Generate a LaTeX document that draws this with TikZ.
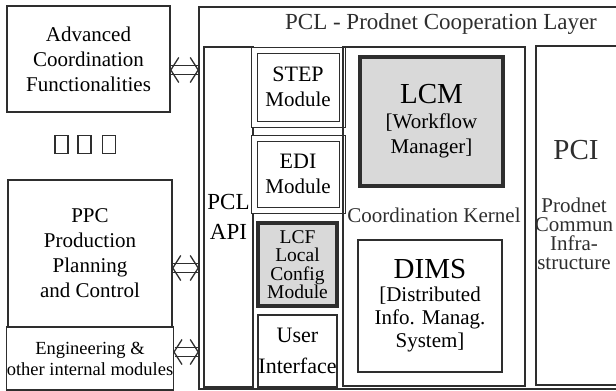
\documentclass[tikz,border=0pt]{standalone}
\usepackage{fontspec}
\setmainfont{Liberation Serif}
\usetikzlibrary{arrows.meta}
\definecolor{ink}{HTML}{2E2E2E}
\definecolor{shade}{HTML}{D9D9D9}

\begin{document}
\begin{tikzpicture}[x=1pt, y=-1pt,
    box/.style={draw=ink, line width=1.2pt, inner sep=0pt, outer sep=0pt,
                align=center, font=\fontsize{21}{25}\selectfont},
    hbox/.style={box, line width=3.5pt, fill=shade},
    dbox/.style={box, double, double distance=5pt, line width=1pt},
    txt/.style={inner sep=0pt, align=center, text=ink, font=\fontsize{21}{25}\selectfont},
    big/.style={txt, font=\fontsize{29}{32}\selectfont},
    sqmark/.style={draw=ink, line width=1.3pt, minimum width=13pt, minimum height=18pt, inner sep=0pt},
    iface/.style={draw=ink, double, double distance=8pt, line width=1.2pt,
                  {Straight Barb[length=8pt, width=25pt, line width=1.3pt]}-{Straight Barb[length=8pt, width=25pt, line width=1.3pt]}},
]
    \useasboundingbox (0,0) rectangle (616,391);
    \clip (0,0) rectangle (616,391);

    % outside the layer
    \node[box, minimum width=163pt, minimum height=106pt] (adv) at (88.5,59)
        {Advanced\\Coordination\\Functionalities};
    \node[sqmark] (sq1) at (61.5,144.5) {};
    \node[sqmark] (sq2) at (84.5,144.5) {};
    \node[sqmark] (sq3) at (109,144.5) {};
    \node[box, minimum width=164pt, minimum height=147pt] (ppc) at (90,253.5)
        {PPC\\Production\\Planning\\and Control};
    \node[box, minimum width=164pt, minimum height=63pt,
          font=\fontsize{18.5}{21}\selectfont] (eng) at (90,358.5)
        {Engineering \&\\other internal modules};

    % cooperation layer
    \node[box, minimum width=461pt, minimum height=382pt] (pcl) at (429.5,198) {};
    \node[txt, font=\fontsize{23}{26}\selectfont] (pcltitle) at (441,24)
        {PCL - Prodnet Cooperation Layer};
    \node[box, minimum width=49pt, minimum height=340pt,
          font=\fontsize{23}{30}\selectfont] (api) at (228.5,217) {PCL\\API};
    \node[dbox, minimum width=88pt, minimum height=74pt] (stepmod) at (298,87)
        {\fontsize{22}{28}\selectfont STEP\\Module};
    \node[dbox, minimum width=88pt, minimum height=72pt] (edimod) at (298,174)
        {\fontsize{22}{28}\selectfont EDI\\Module};
    \node[hbox, minimum width=79pt, minimum height=83pt,
          font=\fontsize{19.5}{18.5}\selectfont] (lcf) at (297.5,264.5)
        {LCF\\Local\\Config\\Module};
    \node[box, minimum width=79pt, minimum height=72pt,
          font=\fontsize{22}{31}\selectfont] (ui) at (297.5,351) {User\\Interface};

    % coordination kernel
    \node[box, minimum width=182pt, minimum height=339pt] (kernel) at (434,216.5) {};
    \node[txt] (kernlbl) at (434,215) {Coordination Kernel};
    \node[hbox, minimum width=143pt, minimum height=129pt] (lcm) at (431.5,121.5)
        {\fontsize{29}{30}\selectfont LCM\\{}[Workflow\\Manager]};
    \node[box, minimum width=144pt, minimum height=132pt,
          font=\fontsize{21}{23}\selectfont] (dims) at (430,306)
        {\fontsize{29}{28}\selectfont DIMS\\{}[Distributed\\Info. Manag.\\System]};

    % communication infrastructure
    \node[box, minimum width=124pt, minimum height=339pt] (pci) at (598,215.5) {};
    \node[big] (pcilbl) at (576,150) {PCI};
    \node[txt, font=\fontsize{21}{19}\selectfont] (pcitxt) at (574,234)
        {Prodnet\\Commun\\Infra-\\structure};

    % interfaces
    \draw[iface] (adv.east |- 0,70) -- (pcl.west |- 0,70);
    \draw[iface] (ppc.east |- 0,268) -- (pcl.west |- 0,268);
    \draw[iface] (eng.east |- 0,352) -- (pcl.west |- 0,352);
\end{tikzpicture}
\end{document}
